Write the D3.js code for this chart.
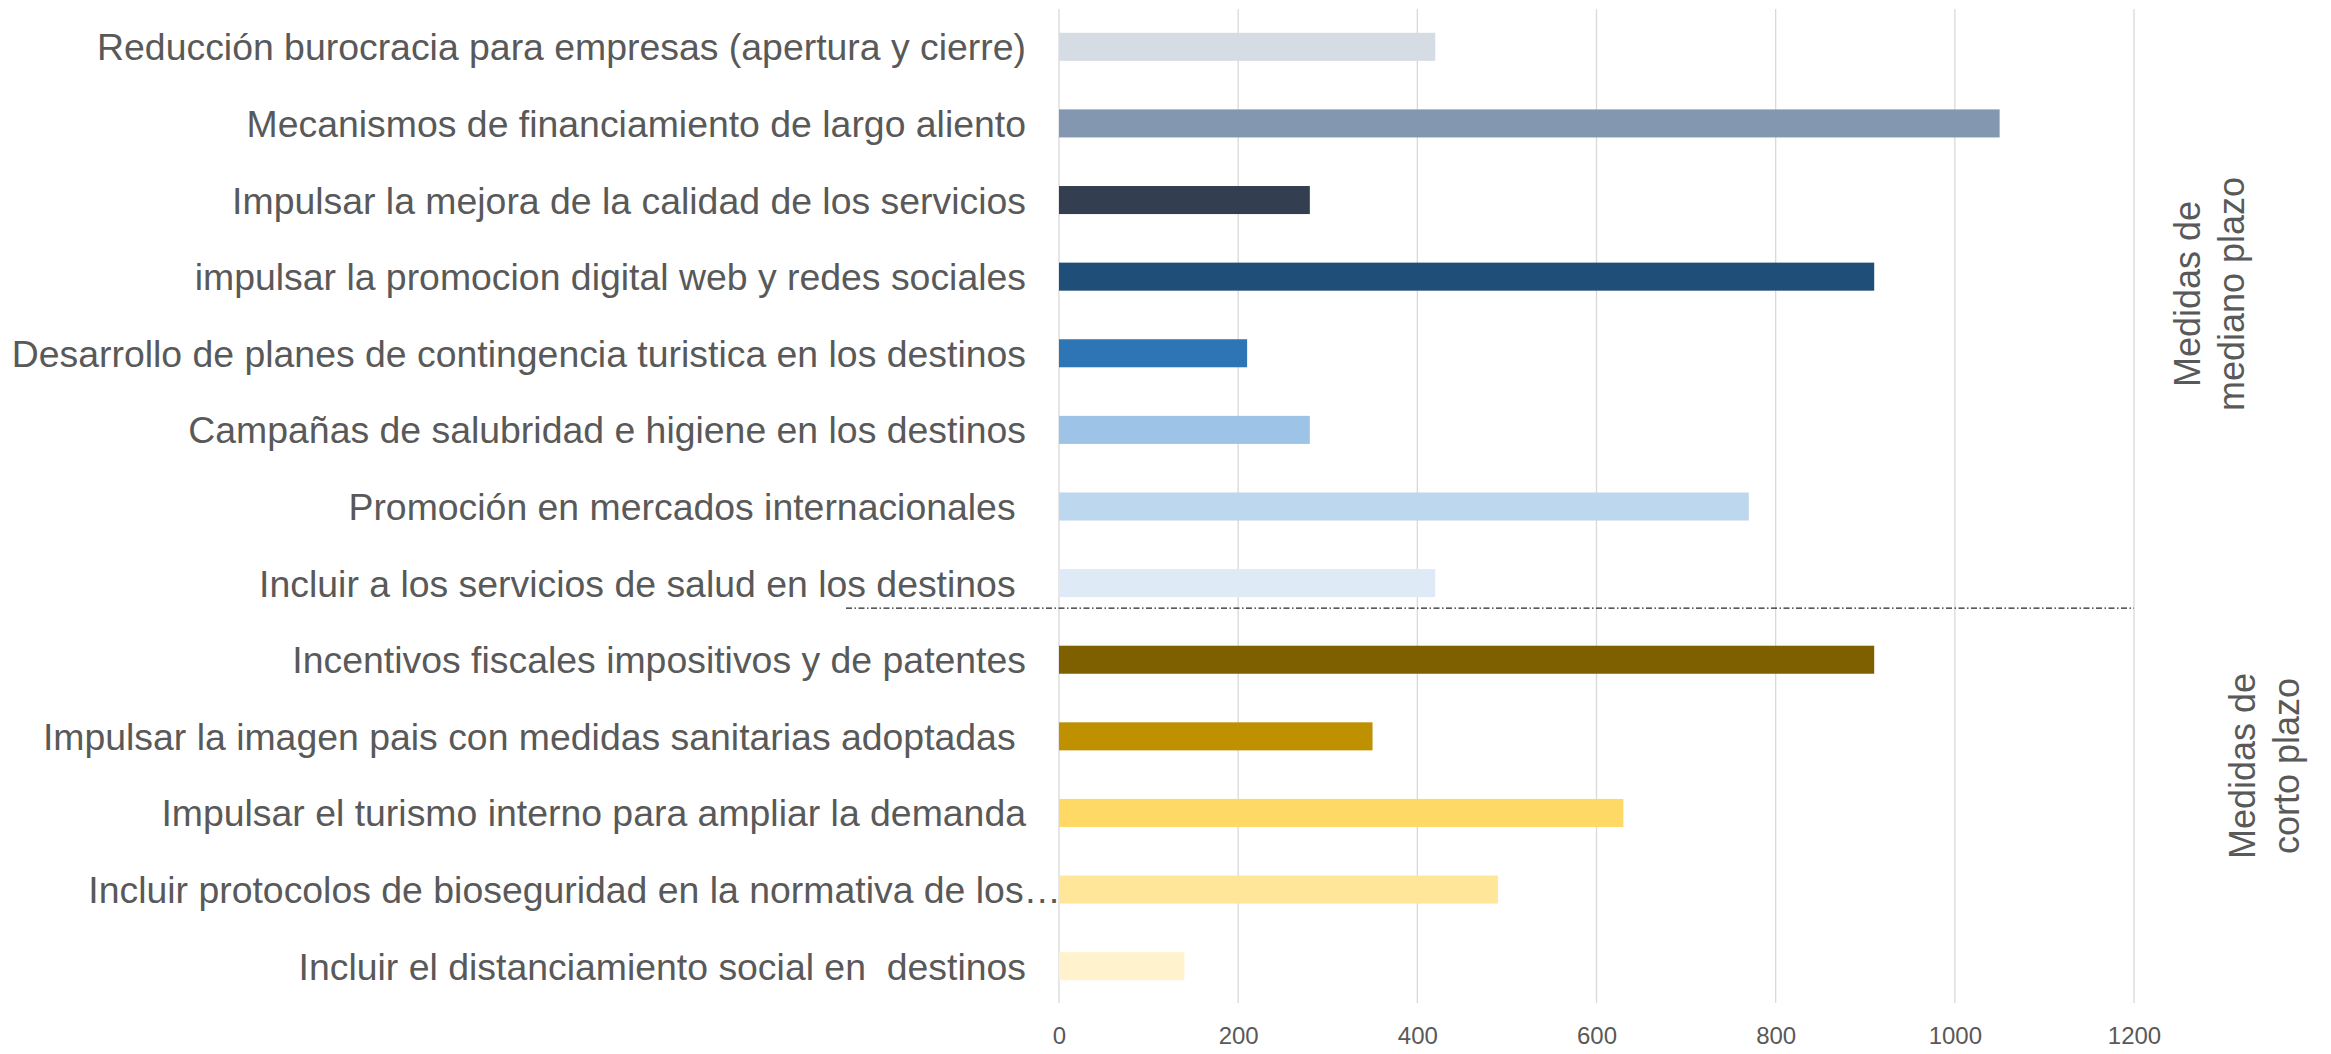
<!DOCTYPE html>
<html>
<head>
<meta charset="utf-8">
<script src="https://cdn.jsdelivr.net/npm/d3@7"></script>
<style>
  body { margin: 0; background: #fff; }
  svg text { font-family: "Liberation Sans", Arial, sans-serif; fill: #595959; white-space: pre; }
</style>
</head>
<body>
<div class="chart"></div>
<script>
// categories top to bottom, as in the picture
const categories = [
  "Reducción burocracia para empresas (apertura y cierre)",
  "Mecanismos de financiamiento de largo aliento",
  "Impulsar la mejora de la calidad de los servicios",
  "impulsar la promocion digital web y redes sociales",
  "Desarrollo de planes de contingencia turistica en los destinos",
  "Campañas de salubridad e higiene en los destinos",
  "Promoción en mercados internacionales ",
  "Incluir a los servicios de salud en los destinos ",
  "Incentivos fiscales impositivos y de patentes",
  "Impulsar la imagen pais con medidas sanitarias adoptadas ",
  "Impulsar el turismo interno para ampliar la demanda",
  "Incluir protocolos de bioseguridad en la normativa de los…",
  "Incluir el distanciamiento social en  destinos"
];
const values = [420, 1050, 280, 910, 210, 280, 770, 420, 910, 350, 630, 490, 140];
const barColors = ["#D6DCE4", "#8497B0", "#333F50", "#1F4E79", "#2E75B6", "#9DC3E6", "#BDD7EE",
                   "#DEEBF7", "#7F6000", "#BF9000", "#FFD966", "#FFE699", "#FFF2CC"];
const xTicks = [0, 200, 400, 600, 800, 1000, 1200];
// the two groups of measures, split after this category
const splitAfter = "Incluir a los servicios de salud en los destinos ";
const groupLabels = [
  { lines: ["Medidas de", "mediano plazo"], x: 2200, y: 294 },
  { lines: ["Medidas de", "corto plazo"], x: 2255, y: 766 }
];

const width = 2331, height = 1054;

const svg = d3.select(".chart").append("svg")
  .attr("width", width)
  .attr("height", height);

const x = d3.scaleLinear().domain([0, 1200]).range([1059, 2134]);
const y = d3.scaleBand().domain(categories).range([8.5, 1004.5])
  .paddingInner(0.634).paddingOuter(0.317);

// vertical gridlines
svg.append("g")
  .selectAll("line")
  .data(xTicks)
  .enter()
  .append("line")
    .attr("x1", d => x(d)).attr("x2", d => x(d))
    .attr("y1", 9).attr("y2", 1003)
    .attr("stroke", "#D9D9D9")
    .attr("stroke-width", 1.3);

// x axis labels (no domain line, no ticks)
const xAxis = svg.append("g")
  .attr("transform", "translate(0,1024)")
  .call(d3.axisBottom(x).tickValues(xTicks).tickFormat(d3.format("d")).tickSize(0).tickPadding(0));
xAxis.select(".domain").remove();
xAxis.selectAll("text")
  .attr("dy", "0.85em")
  .style("font-family", "'Liberation Sans', Arial, sans-serif")
  .style("font-size", "24px")
  .attr("fill", "#595959");

// bars
svg.append("g")
  .selectAll("rect")
  .data(categories)
  .enter()
  .append("rect")
    .attr("x", x(0))
    .attr("y", d => y(d))
    .attr("width", (d, i) => x(values[i]) - x(0))
    .attr("height", y.bandwidth())
    .attr("fill", (d, i) => barColors[i]);

// category labels
svg.append("g")
  .selectAll("text")
  .data(categories)
  .enter()
  .append("text")
    .text(d => d)
    .attr("x", d => d.endsWith("…") ? 1061 : 1026)
    .attr("y", d => y(d) + y.bandwidth() / 2)
    .attr("dy", "0.36em")
    .attr("text-anchor", "end")
    .style("font-size", "37.4px");

// dash-dot separator between the two groups
const sepY = y(splitAfter) + y.bandwidth() + 11;
svg.append("line")
  .attr("x1", 846).attr("x2", x(1200))
  .attr("y1", sepY).attr("y2", sepY)
  .attr("stroke", "#262626")
  .attr("stroke-width", 1.2)
  .attr("stroke-dasharray", "6,2.5,1.5,2.5");

// rotated group labels on the right
groupLabels.forEach(g => {
  const t = svg.append("text")
    .attr("transform", "translate(" + g.x + "," + g.y + ") rotate(-90)")
    .attr("text-anchor", "middle")
    .style("font-size", "36px");
  g.lines.forEach((line, i) => {
    t.append("tspan")
      .attr("x", 0)
      .attr("dy", i === 0 ? 0 : 44)
      .text(line);
  });
});
</script>
</body>
</html>
